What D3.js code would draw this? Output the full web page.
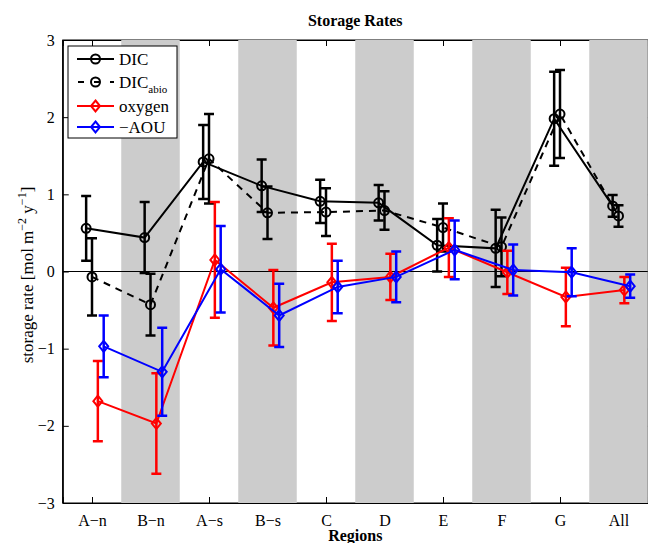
<!DOCTYPE html>
<html>
<head>
<meta charset="utf-8">
<script src="https://cdn.jsdelivr.net/npm/d3@7"></script>
<style>
    body { margin: 0; background: #fff; }
    text { font-family: "Liberation Serif", "DejaVu Serif", serif; }
</style>
</head>
<body>
<div id="chartdiv"></div>
<script>
/*global d3 */

var regions = ["A\u2212n", "B\u2212n", "A\u2212s", "B\u2212s", "C", "D", "E", "F", "G", "All"],
    yTicks = [-3, -2, -1, 0, 1, 2, 3],
    dic = [0.56, 0.44, 1.42, 1.11, 0.91, 0.89, 0.34, 0.30, 1.98, 0.85],
    dicErr = [0.42, 0.46, 0.48, 0.34, 0.28, 0.23, 0.34, 0.50, 0.61, 0.14],
    dicAbio = [-0.07, -0.43, 1.46, 0.76, 0.77, 0.79, 0.57, 0.32, 2.04, 0.72],
    dicAbioErr = [0.50, 0.40, 0.58, 0.34, 0.31, 0.25, 0.31, 0.38, 0.57, 0.14],
    oxygen = [-1.68, -1.97, 0.15, -0.47, -0.14, -0.07, 0.31, -0.01, -0.33, -0.24],
    oxygenErr = [0.52, 0.65, 0.75, 0.49, 0.50, 0.30, 0.38, 0.28, 0.38, 0.17],
    aou = [-0.97, -1.30, 0.03, -0.57, -0.20, -0.07, 0.28, 0.02, -0.01, -0.19],
    aouErr = [0.40, 0.57, 0.56, 0.41, 0.34, 0.33, 0.38, 0.33, 0.31, 0.15];

(function () {
    "use strict";

    var W = 648, H = 543,
        pl = 62.75, pr = 647.75, pt = 40, pb = 503,
        x = d3.scaleLinear().domain([0.5, 10.5]).range([pl, pr]),
        y = d3.scaleLinear().domain([-3, 3]).range([pb, pt]),
        svg, plot, series;

    //x offsets keep the four series from sitting on top of each other
    series = [
        {name: "DIC", vals: dic, err: dicErr, color: "#000", dx: -0.1,
         mark: "circle", dash: null},
        {name: "DICabio", vals: dicAbio, err: dicAbioErr, color: "#000",
         dx: 0, mark: "circle", dash: "7,6"},
        {name: "oxygen", vals: oxygen, err: oxygenErr, color: "#ff0000",
         dx: 0.1, mark: "diamond", dash: null},
        {name: "\u2212AOU", vals: aou, err: aouErr, color: "#0000ff",
         dx: 0.2, mark: "diamond", dash: null}];

    function drawMarker(g, kind, cx, cy, color) {
        if(kind === "circle") {
            g.append("circle")
                .attr("cx", cx).attr("cy", cy).attr("r", 4.5)
                .attr("fill", "none").attr("stroke", color)
                .attr("stroke-width", 2); }
        else {
            g.append("path")
                .attr("d", "M" + cx + "," + (cy - 5.5) + "L" + (cx + 4.5) + "," + cy +
                      "L" + cx + "," + (cy + 5.5) + "L" + (cx - 4.5) + "," + cy + "Z")
                .attr("fill", "none").attr("stroke", color)
                .attr("stroke-width", 2); }
    }

    function drawAxes() {
        var ax;
        svg.append("rect")
            .attr("x", pl).attr("y", pt)
            .attr("width", pr - pl).attr("height", pb - pt)
            .attr("fill", "#fff").attr("stroke", "#000").attr("stroke-width", 1);
        ax = svg.append("g").attr("transform", "translate(" + pl + ",0)")
            .call(d3.axisLeft(y).tickValues(yTicks).tickSize(-6).tickPadding(8)
                  .tickFormat(function (d) { return d < 0 ? "\u2212" + (-d) : d; }));
        ax.selectAll("text").attr("font-size", 16)
            .attr("font-family", "Liberation Serif, serif");
        svg.append("g").attr("transform", "translate(" + pr + ",0)")
            .call(d3.axisRight(y).tickValues(yTicks).tickSize(-6).tickFormat(""));
        ax = svg.append("g").attr("transform", "translate(0," + pb + ")")
            .call(d3.axisBottom(x).tickValues(d3.range(1, 11)).tickSize(-6)
                  .tickPadding(12)
                  .tickFormat(function (d) { return regions[d - 1]; }));
        ax.selectAll("text").attr("font-size", 16)
            .attr("font-family", "Liberation Serif, serif");
        svg.append("g").attr("transform", "translate(0," + pt + ")")
            .call(d3.axisTop(x).tickValues(d3.range(1, 11)).tickSize(-6).tickFormat(""));
        svg.selectAll(".domain").attr("stroke", "#000");
        svg.selectAll(".tick line").attr("stroke", "#000");
    }

    function drawBands() {
        //grey patches on every second region, laid over the box ticks
        svg.append("g").selectAll("rect")
            .data(d3.range(2, 11, 2))
            .join("rect")
            .attr("x", function (d) { return x(d - 0.5); })
            .attr("y", pt)
            .attr("width", function (d) { return x(d + 0.5) - x(d - 0.5); })
            .attr("height", pb - pt)
            .attr("fill", "#cccccc");
        svg.append("line")
            .attr("x1", pl).attr("x2", pr)
            .attr("y1", y(0)).attr("y2", y(0))
            .attr("stroke", "#000").attr("stroke-width", 1);
        svg.append("line")
            .attr("x1", pl).attr("x2", pl).attr("y1", pt).attr("y2", pb)
            .attr("stroke", "#000").attr("stroke-width", 1);
    }

    function drawSeries(s) {
        var g = plot.append("g"), line;
        line = d3.line()
            .x(function (d, i) { return x(i + 1 + s.dx); })
            .y(function (d) { return y(d); });
        g.append("path").datum(s.vals)
            .attr("d", line)
            .attr("fill", "none")
            .attr("stroke", s.color)
            .attr("stroke-width", 2)
            .attr("stroke-dasharray", s.dash);
        s.vals.forEach(function (v, i) {
            var cx = x(i + 1 + s.dx), y0 = y(v + s.err[i]), y1 = y(v - s.err[i]);
            g.append("path")
                .attr("d", "M" + cx + "," + y0 + "V" + y1 +
                      "M" + (cx - 5) + "," + y0 + "H" + (cx + 5) +
                      "M" + (cx - 5) + "," + y1 + "H" + (cx + 5))
                .attr("fill", "none")
                .attr("stroke", s.color)
                .attr("stroke-width", 2.5);
            drawMarker(g, s.mark, cx, y(v), s.color); });
    }

    function drawLegend() {
        var lg = svg.append("g"), rows = [59, 82, 106, 127];
        lg.append("rect")
            .attr("x", 68).attr("y", 46).attr("width", 109).attr("height", 92)
            .attr("fill", "#fff").attr("stroke", "#000").attr("stroke-width", 1);
        series.forEach(function (s, i) {
            var ry = rows[i], t;
            lg.append("line")
                .attr("x1", 77).attr("x2", 114).attr("y1", ry).attr("y2", ry)
                .attr("stroke", s.color).attr("stroke-width", 2)
                .attr("stroke-dasharray", s.dash ? "6,10" : null)
                .attr("stroke-dashoffset", s.dash ? -1 : null);
            drawMarker(lg, s.mark, 95.5, ry, s.color);
            t = lg.append("text")
                .attr("x", 119).attr("y", ry + 6)
                .attr("font-size", 17);
            if(s.name === "DICabio") {
                t.append("tspan").text("DIC");
                t.append("tspan").attr("dy", 5).attr("font-size", 11).text("abio"); }
            else {
                t.text(s.name); } });
    }

    function drawLabels() {
        var t;
        svg.append("text")
            .attr("x", (pl + pr) / 2).attr("y", 26)
            .attr("text-anchor", "middle")
            .attr("font-size", 16).attr("font-weight", "bold")
            .text("Storage Rates");
        svg.append("text")
            .attr("x", (pl + pr) / 2).attr("y", 541)
            .attr("text-anchor", "middle")
            .attr("font-size", 16).attr("font-weight", "bold")
            .text("Regions");
        t = svg.append("text")
            .attr("transform", "translate(33,275) rotate(-90)")
            .attr("text-anchor", "middle")
            .attr("font-size", 17);
        t.append("tspan").text("storage rate [mol m");
        t.append("tspan").attr("dy", -7).attr("font-size", 12).text("\u22122");
        t.append("tspan").attr("dy", 7).text(" y");
        t.append("tspan").attr("dy", -7).attr("font-size", 12).text("\u22121");
        t.append("tspan").attr("dy", 7).text("]");
    }

    svg = d3.select("#chartdiv").append("svg")
        .attr("width", W).attr("height", H);
    svg.append("defs").append("clipPath").attr("id", "plotclip")
        .append("rect").attr("x", pl).attr("y", pt)
        .attr("width", pr - pl).attr("height", pb - pt);
    drawAxes();
    drawBands();
    plot = svg.append("g").attr("clip-path", "url(#plotclip)");
    series.forEach(drawSeries);
    drawLegend();
    drawLabels();
}());
</script>
</body>
</html>
